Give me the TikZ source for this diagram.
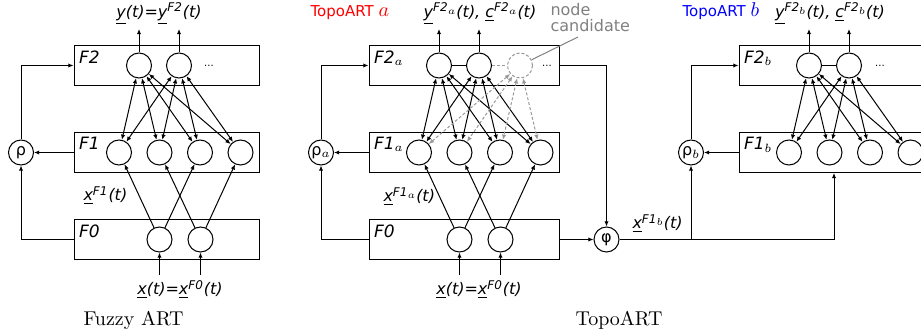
\documentclass[tikz,border=0pt]{standalone}
\usepackage{fontspec}
\newfontfamily\dvsans{DejaVu Sans}
\usetikzlibrary{arrows.meta}
\newcommand\ssub[1]{\raisebox{-0.35ex}{\fontsize{3.4}{3.4}\selectfont$#1$}}

\begin{document}
\begin{tikzpicture}[x=0.5pt, y=-0.5pt, line width=0.5pt,
    font=\dvsans\itshape\fontsize{8}{9.6}\selectfont, >={Latex[length=2.6pt,width=2.2pt]},
    lay/.style={draw, minimum width=#1, minimum height=20pt, inner sep=0pt},
    lay/.default=95pt,
    tag/.style={anchor=north west, inner sep=2.5pt, font=\dvsans\itshape\fontsize{8.5}{10}\selectfont},
    nd/.style={draw, circle, minimum size=12.5pt, inner sep=0pt, font=\dvsans\fontsize{8}{9.6}\selectfont},
    ndc/.style={nd, draw=gray!80, dash pattern=on 1.5pt off 1pt},
    sig/.style={anchor=base, inner sep=0pt},
    dots/.style={anchor=base, inner sep=0pt, font=\dvsans\fontsize{5}{6}\selectfont},
    ttl/.style={anchor=base west, inner sep=0pt, font=\dvsans\fontsize{7.5}{9}\selectfont},
    capt/.style={anchor=base, inner sep=0pt, font=\rmfamily\upshape\fontsize{10}{12}\selectfont},
    lnkc/.style={<->, gray!80, dash pattern=on 1.5pt off 1pt}]

  \useasboundingbox (0,0) rectangle (921,336);
  \clip (0,0) rectangle (921,336);

  % ---------------- Fuzzy ART ----------------
  \node[lay=92.5pt] (f2) at (166.5,65.5) {};
  \node[lay=92.5pt] (f1) at (166.5,152.5) {};
  \node[lay=92.5pt] (f0) at (166.5,239.5) {};
  \node[tag] (f2t) at (f2.north west) {F2};
  \node[tag] (f1t) at (f1.north west) {F1};
  \node[tag] (f0t) at (f0.north west) {F0};
  \node[nd] (fy1) at (139,65.5) {};
  \node[nd] (fy2) at (179,65.5) {};
  \node[dots] (fdt) at (209,66.5) {...};
  \node[nd] (fx1) at (119,152.5) {};
  \node[nd] (fx2) at (159.5,152.5) {};
  \node[nd] (fx3) at (200,152.5) {};
  \node[nd] (fx4) at (240.5,152.5) {};
  \node[nd] (fi1) at (159.5,239.5) {};
  \node[nd] (fi2) at (200.5,239.5) {};
  \node[nd] (frho) at (21,152.5) {ρ};
  \node[sig] (fout) at (159,17.5) {\underline{y}(t)=\underline{y}\textsuperscript{F2}(t)};
  \coordinate (ftop) at (159,29);
  \node[sig] (fin) at (180,295) {\underline{x}(t)=\underline{x}\textsuperscript{F0}(t)};
  \coordinate (fbot) at (180,275);
  \node[sig, anchor=base west] (fx) at (83,201) {\underline{x}\textsuperscript{F1}(t)};
  \node[capt] (fcap) at (133.5,325.7) {Fuzzy ART};

  \foreach \a in {fy1,fy2}
    \foreach \b in {fx1,fx2,fx3,fx4}
      \draw[<->] (\a) -- (\b);
  \draw[->] (fi1) -- (fx1);
  \draw[->] (fi1) -- (fx3);
  \draw[->] (fi2) -- (fx2);
  \draw[->] (fi2) -- (fx4);
  \draw[->] (fy1) -- (fy1 |- ftop);
  \draw[->] (fy2) -- (fy2 |- ftop);
  \draw[->] (fi1 |- fbot) -- (fi1);
  \draw[->] (fi2 |- fbot) -- (fi2);
  \draw[->] (f1.west) -- (frho);
  \draw[->] (f0.west) -| (frho.south);
  \draw[->] (frho.north) |- (f2.west);

  % ---------------- TopoART a ----------------
  \node[lay] (a2) at (464,65.5) {};
  \node[lay] (a1) at (464,152.5) {};
  \node[lay] (a0) at (464,239.5) {};
  \node[tag] (a2t) at (a2.north west) {F2$_a$};
  \node[tag] (a1t) at (a1.north west) {F1$_a$};
  \node[tag] (a0t) at (a0.north west) {F0};
  \node[nd] (ay1) at (439,65.5) {};
  \node[nd] (ay2) at (479,65.5) {};
  \node[ndc] (ayc) at (520,65.5) {};
  \node[dots] (adt) at (547,66.5) {...};
  \node[nd] (ax1) at (419,152.5) {};
  \node[nd] (ax2) at (459.5,152.5) {};
  \node[nd] (ax3) at (500,152.5) {};
  \node[nd] (ax4) at (540.5,152.5) {};
  \node[nd] (ai1) at (459.5,239.5) {};
  \node[nd] (ai2) at (500.5,239.5) {};
  \node[nd] (arho) at (321,152.5) {ρ$_a$};
  \node[nd] (phi) at (606.5,239.5) {φ};
  \node[ttl, red] (atl) at (310,16.5) {TopoART {\fontsize{10}{12}\selectfont$a$}};
  \node[sig] (aout) at (480,17.5) {\underline{y}\textsuperscript{F2\ssub{a}}(t), \underline{c}\textsuperscript{F2\ssub{a}}(t)};
  \coordinate (atop) at (480,29);
  \node[sig] (ain) at (479,295) {\underline{x}(t)=\underline{x}\textsuperscript{F0}(t)};
  \coordinate (abot) at (479,275);
  \node[sig, anchor=base west] (ax) at (383,202) {\underline{x}\textsuperscript{F1\ssub{a}}(t)};
  \node[anchor=north west, inner sep=0pt, align=left, gray, font=\dvsans\upshape\fontsize{8}{8}\selectfont] (cnd) at (550,3) {node\\candidate};
  \coordinate (cndp) at (578,37);
  \node[capt] (acap) at (619,325.7) {TopoART};

  \draw (ay1) -- (ay2);
  \draw[gray!80, dash pattern=on 1.5pt off 1pt] (ay2) -- (ayc);
  \draw[gray] (ayc) -- (cndp);
  \foreach \a in {ay1,ay2}
    \foreach \b in {ax1,ax2,ax3,ax4}
      \draw[<->] (\a) -- (\b);
  \foreach \b in {ax1,ax2,ax3,ax4}
    \draw[lnkc] (ayc) -- (\b);
  \draw[->] (ai1) -- (ax1);
  \draw[->] (ai1) -- (ax3);
  \draw[->] (ai2) -- (ax2);
  \draw[->] (ai2) -- (ax4);
  \draw[->] (ay1) -- (ay1 |- atop);
  \draw[->] (ay2) -- (ay2 |- atop);
  \draw[->] (ai1 |- abot) -- (ai1);
  \draw[->] (ai2 |- abot) -- (ai2);
  \draw[->] (a1.west) -- (arho);
  \draw[->] (a0.west) -| (arho.south);
  \draw[->] (arho.north) |- (a2.west);
  \draw[->] (a2.east) -| (phi.north);
  \draw[->] (a0.east) -- (phi);

  % ---------------- TopoART b ----------------
  \node[lay] (b2) at (834,65.5) {};
  \node[lay] (b1) at (834,152.5) {};
  \node[tag] (b2t) at (b2.north west) {F2$_b$};
  \node[tag] (b1t) at (b1.north west) {F1$_b$};
  \node[nd] (by1) at (809,65.5) {};
  \node[nd] (by2) at (849,65.5) {};
  \node[dots] (bdt) at (880,66.5) {...};
  \node[nd] (bx1) at (789,152.5) {};
  \node[nd] (bx2) at (829.5,152.5) {};
  \node[nd] (bx3) at (870,152.5) {};
  \node[nd] (bx4) at (910.5,152.5) {};
  \node[nd] (brho) at (691,152.5) {ρ$_b$};
  \node[ttl, blue] (btl) at (682,16.5) {TopoART {\fontsize{10}{12}\selectfont$b$}};
  \node[sig] (bout) at (830,17.5) {\underline{y}\textsuperscript{F2\ssub{b}}(t), \underline{c}\textsuperscript{F2\ssub{b}}(t)};
  \coordinate (btop) at (830,29);
  \node[sig, anchor=base west] (bx) at (632,229) {\underline{x}\textsuperscript{F1\ssub{b}}(t)};

  \draw (by1) -- (by2);
  \foreach \a in {by1,by2}
    \foreach \b in {bx1,bx2,bx3,bx4}
      \draw[<->] (\a) -- (\b);
  \draw[->] (by1) -- (by1 |- btop);
  \draw[->] (by2) -- (by2 |- btop);
  \draw[->] (b1.west) -- (brho);
  \draw[->] (brho.north) |- (b2.west);
  \draw[->] (phi.east) -| (b1.south);
  \draw[->] (brho |- phi) -- (brho.south);
\end{tikzpicture}
\end{document}
